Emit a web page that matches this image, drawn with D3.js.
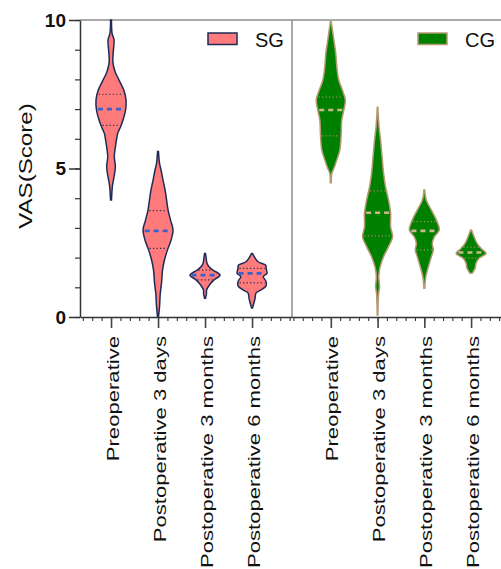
<!DOCTYPE html>
<html>
<head>
<meta charset="utf-8">
<script src="https://cdn.jsdelivr.net/npm/d3@7"></script>
<style>
body { margin: 0; background: #fff; }
svg { display: block; font-family: Arial, "Liberation Sans", Helvetica, sans-serif; }
</style>
</head>
<body>
<svg id="chart"></svg>
<script>
// groups + time points
var groups = ["SG", "CG"];
var categories = ["Preoperative", "Postoperative 3 days", "Postoperative 3 months", "Postoperative 6 months"];
var yTicks = [0, 5, 10];

// violin outlines: [score, relative half width]
var sgProfiles = [
    [[10.0,0.03],[9.55,0.07],[9.33,0.2],[8.99,0.16],[8.6,0.12],[8.26,0.27],[7.98,0.53],[7.64,0.85],[7.31,1.0],[6.97,0.97],[6.63,0.8],[6.4,0.63],[6.19,0.45],[5.85,0.33],[5.4,0.22],[5.06,0.29],[4.72,0.2],[4.44,0.1],[3.94,0.03]],
    [[5.57,0.03],[5.17,0.1],[4.95,0.2],[4.61,0.33],[4.28,0.47],[3.94,0.57],[3.6,0.67],[3.27,0.83],[2.93,1.0],[2.59,0.87],[2.26,0.63],[1.92,0.43],[1.58,0.3],[1.13,0.23],[0.8,0.15],[0.35,0.1],[0.0,0.03]],
    [[2.14,0.03],[2.0,0.07],[1.81,0.13],[1.69,0.27],[1.58,0.53],[1.41,1.0],[1.25,0.6],[1.08,0.3],[0.91,0.1],[0.8,0.1],[0.63,0.03]],
    [[2.14,0.03],[1.86,0.4],[1.75,0.9],[1.6,0.95],[1.47,1.0],[1.36,0.75],[1.2,0.93],[1.05,0.93],[0.91,0.6],[0.81,0.27],[0.63,0.2],[0.52,0.15],[0.3,0.03]]
];
var cgProfiles = [
    [[9.94,0.03],[9.33,0.2],[8.88,0.33],[8.43,0.4],[7.98,0.53],[7.64,0.77],[7.31,0.97],[6.97,0.87],[6.63,0.73],[6.3,0.7],[5.96,0.67],[5.62,0.6],[5.29,0.4],[5.0,0.2],[4.84,0.07],[4.52,0.03]],
    [[7.06,0.02],[6.4,0.1],[5.96,0.2],[5.4,0.3],[4.84,0.4],[4.39,0.53],[3.94,0.73],[3.49,0.87],[3.04,0.87],[2.7,1.0],[2.37,0.73],[2.03,0.4],[1.69,0.17],[1.36,0.08],[1.02,0.13],[0.8,0.07],[0.07,0.02]],
    [[4.28,0.03],[3.94,0.13],[3.6,0.47],[3.27,0.8],[2.93,1.0],[2.7,0.67],[2.48,0.53],[2.26,0.6],[2.03,0.47],[1.69,0.27],[1.36,0.1],[0.97,0.03]],
    [[2.93,0.03],[2.7,0.2],[2.48,0.4],[2.31,0.67],[2.14,1.0],[1.98,0.53],[1.81,0.33],[1.64,0.27],[1.47,0.07]]
];

var sgMedian = [7.0, 2.9, 1.41, 1.47];
var sgQ1 = [6.45, 2.31, 1.25, 1.15];
var sgQ3 = [7.5, 3.58, 1.58, 1.64];
var cgMedian = [6.97, 3.51, 2.9, 2.17];
var cgQ1 = [6.1, 2.73, 2.26, 1.98];
var cgQ3 = [7.4, 4.25, 3.21, 2.35];

var width = 501, height = 569;
var svg = d3.select("#chart").attr("width", width).attr("height", height);

var yScale = d3.scaleLinear().domain([0, 10]).range([317, 20]);
var wScale = d3.scaleLinear().domain([0, 1]).range([0, 15]);

var panels = [
    {name: groups[0], profiles: sgProfiles, median: sgMedian, q1: sgQ1, q3: sgQ3,
     x: d3.scaleLinear().domain([-0.66, 3.85]).range([80, 292]), minor: d3.range(-0.6, 3.85, 0.2),
     fill: "#ff7b7b", stroke: "#1c2b58", medColor: "#3a62c8", qColor: "#1c2b58", legX: 208},
    {name: groups[1], profiles: cgProfiles, median: cgMedian, q1: cgQ1, q3: cgQ3,
     x: d3.scaleLinear().domain([-0.83, 3.64]).range([292, 501]), minor: d3.range(-0.8, 3.64, 0.2),
     fill: "#008000", stroke: "#b39a72", medColor: "#cdb78f", qColor: "#a88a62", legX: 418}
];

// half width at a given score (linear between read points)
var widthAt = function(profile, v)
{
    for (var i = 0; i < profile.length - 1; i++) {
        var a = profile[i], b = profile[i+1];
        if (v <= a[0] && v >= b[0]) {
            var t = (a[0] - v) / (a[0] - b[0]);
            return a[1] + t * (b[1] - a[1]);
        }
    }
    return 0;
}

// frame lines
svg.append("line")
    .attr("x1", 80).attr("x2", width)
    .attr("y1", yScale(10)).attr("y2", yScale(10))
    .attr("stroke", "#8c8c8c").attr("stroke-width", 1.5);
svg.append("line")
    .attr("x1", panels[1].x.range()[0]).attr("x2", panels[1].x.range()[0])
    .attr("y1", yScale(10)).attr("y2", yScale(0))
    .attr("stroke", "#8c8c8c").attr("stroke-width", 1.5);

// y axis
var yMinor = svg.append("g").attr("transform", "translate(80,0)")
    .call(d3.axisLeft(yScale).tickValues(d3.range(0, 11, 1)).tickSize(5).tickFormat(""));
yMinor.select(".domain").remove();
yMinor.selectAll("line").attr("stroke", "#333").attr("stroke-width", 1.2);

var yAxis = svg.append("g").attr("transform", "translate(80,0)")
    .call(d3.axisLeft(yScale).tickValues(yTicks).tickSize(11).tickSizeOuter(0).tickPadding(3));
yAxis.select(".domain").attr("stroke", "#333").attr("stroke-width", 1.5);
yAxis.selectAll("line").attr("stroke", "#333").attr("stroke-width", 1.5);
yAxis.selectAll("text")
    .attr("font-size", 19).attr("font-weight", "bold").attr("fill", "#111")
    .attr("font-family", "Arial, 'Liberation Sans', sans-serif");

svg.append("text")
    .attr("transform", "translate(25,166) rotate(-90) scale(1.27,1)")
    .attr("text-anchor", "middle")
    .attr("dy", "0.35em")
    .attr("font-size", 19)
    .attr("fill", "#111")
    .text("VAS(Score)");

var area = d3.area().curve(d3.curveCatmullRom.alpha(0.5));

panels.forEach(function(p)
{
    // x axis, minor + major
    var gMinor = svg.append("g").attr("transform", "translate(0,317)")
        .call(d3.axisBottom(p.x).tickValues(p.minor).tickSize(4).tickFormat(""));
    gMinor.select(".domain").remove();
    gMinor.selectAll("line").attr("stroke", "#333").attr("stroke-width", 1.1);

    var gx = svg.append("g").attr("transform", "translate(0,317)")
        .call(d3.axisBottom(p.x).tickValues([0,1,2,3]).tickSize(11).tickSizeOuter(0)
            .tickFormat(function(i) { return categories[i]; }));
    gx.select(".domain").attr("stroke", "#333").attr("stroke-width", 1.5);
    gx.selectAll(".tick line").attr("stroke", "#444").attr("stroke-width", 1.6);
    gx.selectAll(".tick text")
        .attr("x", null).attr("y", null).attr("dy", "0.33em")
        .attr("transform", "translate(1.5,19) rotate(-90) scale(1.3,1)")
        .attr("text-anchor", "end")
        .attr("font-size", 17)
        .attr("fill", "#111")
        .attr("font-family", "Arial, 'Liberation Sans', sans-serif");

    // violins
    p.profiles.forEach(function(prof, i)
    {
        var cx = p.x(i);
        svg.append("path")
            .datum(prof)
            .attr("d", area
                .y(function(d) { return yScale(d[0]); })
                .x0(function(d) { return cx - wScale(d[1]); })
                .x1(function(d) { return cx + wScale(d[1]); }))
            .attr("fill", p.fill)
            .attr("stroke", p.stroke)
            .attr("stroke-width", 1.5);

        [p.q1[i], p.q3[i]].forEach(function(q)
        {
            var hw = wScale(widthAt(prof, q)) - 1.5;
            svg.append("line")
                .attr("x1", cx - hw).attr("x2", cx + hw)
                .attr("y1", yScale(q)).attr("y2", yScale(q))
                .attr("stroke", p.qColor)
                .attr("stroke-width", 1.2)
                .attr("stroke-dasharray", "1.2,2.3");
        });

        var mw = wScale(widthAt(prof, p.median[i])) - 1.5;
        svg.append("line")
            .attr("x1", cx - mw).attr("x2", cx + mw)
            .attr("y1", yScale(p.median[i])).attr("y2", yScale(p.median[i]))
            .attr("stroke", p.medColor)
            .attr("stroke-width", 2.6)
            .attr("stroke-dasharray", "5,4");
    });

    // legend
    svg.append("rect")
        .attr("x", p.legX).attr("y", 33)
        .attr("width", 29).attr("height", 11.5)
        .attr("fill", p.fill)
        .attr("stroke", p.stroke)
        .attr("stroke-width", 1.5);
    svg.append("text")
        .attr("x", p.legX + 47).attr("y", 46.5)
        .attr("font-size", 20)
        .attr("fill", "#111")
        .text(p.name);
});
</script>
</body>
</html>
